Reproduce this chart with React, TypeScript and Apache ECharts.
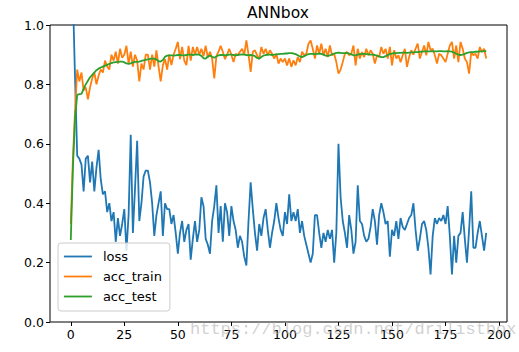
import React, { useEffect, useRef } from "react";
import * as echarts from "echarts";

const seriesNames = ["loss", "acc_train", "acc_test"];
const colors = ["#1f77b4", "#ff7f0e", "#2ca02c"];
const xTicks = [0, 25, 50, 75, 100, 125, 150, 175, 200];

const loss = [
  1.4, 1.1, 0.82, 0.56, 0.55, 0.53, 0.44, 0.55, 0.56, 0.47,
  0.54, 0.44, 0.52, 0.58, 0.48, 0.43, 0.44, 0.37, 0.4, 0.34,
  0.37, 0.27, 0.35, 0.29, 0.33, 0.38, 0.24, 0.36, 0.63, 0.3,
  0.45, 0.61, 0.34, 0.4, 0.49, 0.51, 0.51, 0.47, 0.4, 0.29,
  0.36, 0.4, 0.44, 0.29, 0.4, 0.38, 0.38, 0.33, 0.36, 0.3,
  0.23, 0.3, 0.34, 0.27, 0.31, 0.33, 0.21, 0.28, 0.34, 0.27,
  0.31, 0.42, 0.39, 0.28, 0.26, 0.23, 0.34, 0.39, 0.46, 0.3,
  0.39, 0.27, 0.4, 0.37, 0.29, 0.39, 0.34, 0.31, 0.25, 0.29,
  0.27, 0.22, 0.19, 0.34, 0.47, 0.38, 0.3, 0.24, 0.33, 0.29,
  0.35, 0.38, 0.31, 0.25, 0.3, 0.34, 0.4, 0.35, 0.31, 0.29,
  0.37, 0.33, 0.43, 0.34, 0.37, 0.34, 0.38, 0.3, 0.34, 0.29,
  0.26, 0.23, 0.2, 0.23, 0.36, 0.36, 0.3, 0.25, 0.3, 0.27,
  0.31, 0.28, 0.31, 0.2, 0.3, 0.6, 0.42, 0.34, 0.3, 0.25,
  0.36, 0.31, 0.23, 0.27, 0.46, 0.34, 0.33, 0.29, 0.27, 0.28,
  0.32, 0.38, 0.34, 0.26, 0.36, 0.4, 0.37, 0.33, 0.34, 0.22,
  0.31, 0.29, 0.34, 0.28, 0.35, 0.32, 0.31, 0.33, 0.35, 0.36,
  0.4, 0.31, 0.24, 0.28, 0.33, 0.34, 0.31, 0.25, 0.16, 0.29,
  0.35, 0.33, 0.35, 0.34, 0.36, 0.33, 0.39, 0.29, 0.16, 0.29,
  0.2, 0.29, 0.3, 0.37, 0.28, 0.2, 0.31, 0.44, 0.25, 0.25,
  0.3, 0.34, 0.29, 0.24, 0.3,
];

const accTrain = [
  0.33, 0.55, 0.71, 0.85, 0.81, 0.84, 0.78, 0.79, 0.75, 0.79,
  0.82, 0.84, 0.8, 0.83, 0.85, 0.84, 0.88, 0.86, 0.85, 0.9,
  0.88, 0.91, 0.87, 0.92, 0.89, 0.9, 0.93, 0.87, 0.91, 0.86,
  0.9, 0.88, 0.81, 0.87, 0.85, 0.9, 0.9, 0.85, 0.9, 0.86,
  0.915, 0.86, 0.81, 0.865, 0.885, 0.85, 0.9, 0.865, 0.9, 0.92,
  0.943, 0.885, 0.926, 0.88, 0.865, 0.93, 0.88, 0.926, 0.9, 0.926,
  0.9, 0.92, 0.895, 0.93, 0.89, 0.91, 0.887, 0.82, 0.895, 0.91,
  0.93, 0.91, 0.885, 0.9, 0.92, 0.9, 0.875, 0.903, 0.898, 0.91,
  0.92, 0.9, 0.948, 0.9, 0.842, 0.91, 0.915, 0.898, 0.885, 0.926,
  0.903, 0.92, 0.898, 0.915, 0.903, 0.887, 0.903, 0.87, 0.887, 0.875,
  0.887, 0.864, 0.887, 0.859, 0.881, 0.864, 0.892, 0.875, 0.91, 0.898,
  0.903, 0.937, 0.948, 0.92, 0.887, 0.931, 0.903, 0.937, 0.898, 0.92,
  0.892, 0.931, 0.898, 0.903, 0.875, 0.836, 0.85, 0.875, 0.903, 0.909,
  0.898, 0.903, 0.931, 0.864, 0.92, 0.887, 0.909, 0.892, 0.92, 0.898,
  0.915, 0.903, 0.87, 0.898, 0.892, 0.926, 0.903, 0.92, 0.887, 0.926,
  0.864, 0.915, 0.887, 0.898, 0.875, 0.898, 0.92, 0.859, 0.892, 0.915,
  0.9, 0.92, 0.937, 0.887, 0.909, 0.931, 0.898, 0.943, 0.915, 0.92,
  0.898, 0.87, 0.903, 0.898, 0.887, 0.875, 0.903, 0.931, 0.943, 0.887,
  0.931, 0.875, 0.943, 0.92, 0.887, 0.875, 0.836, 0.909, 0.898, 0.903,
  0.887, 0.926, 0.909, 0.92, 0.887,
];

const accTest = [
  0.276, 0.52, 0.69, 0.765, 0.767, 0.768, 0.785, 0.8, 0.812, 0.824,
  0.832, 0.84, 0.848, 0.853, 0.857, 0.86, 0.863, 0.866, 0.869, 0.872,
  0.874, 0.875, 0.876, 0.877, 0.877, 0.874, 0.871, 0.869, 0.871, 0.874,
  0.876, 0.876, 0.877, 0.879, 0.881, 0.883, 0.884, 0.886, 0.887, 0.887,
  0.884, 0.878, 0.877, 0.882, 0.893, 0.897, 0.898, 0.898, 0.897, 0.898,
  0.899, 0.899, 0.898, 0.898, 0.899, 0.9, 0.9, 0.899, 0.9, 0.901,
  0.9, 0.896, 0.888, 0.887, 0.894, 0.897, 0.893, 0.89, 0.894, 0.898,
  0.899, 0.899, 0.898, 0.899, 0.9, 0.9, 0.899, 0.898, 0.899, 0.9,
  0.901, 0.9, 0.899, 0.898, 0.899, 0.898, 0.895, 0.889, 0.887, 0.892,
  0.897, 0.899, 0.9, 0.9, 0.899, 0.9, 0.901, 0.902, 0.903, 0.903,
  0.904, 0.904, 0.905, 0.905, 0.904, 0.902, 0.898, 0.894, 0.892, 0.895,
  0.899, 0.902, 0.903, 0.903, 0.902, 0.903, 0.904, 0.903, 0.9, 0.897,
  0.896, 0.898, 0.901, 0.904, 0.906, 0.907, 0.906, 0.905, 0.905, 0.906,
  0.904, 0.901, 0.898, 0.898, 0.9, 0.902, 0.903, 0.903, 0.902, 0.901,
  0.9, 0.9, 0.899, 0.897, 0.894, 0.892, 0.892, 0.895, 0.899, 0.902,
  0.904, 0.905, 0.905, 0.906, 0.906, 0.907, 0.907, 0.906, 0.907, 0.908,
  0.908, 0.909, 0.909, 0.91, 0.91, 0.911, 0.911, 0.911, 0.911, 0.912,
  0.911, 0.911, 0.912, 0.912, 0.911, 0.911, 0.912, 0.911, 0.91, 0.907,
  0.903, 0.9, 0.899, 0.9, 0.903, 0.906, 0.908, 0.909, 0.909, 0.91,
  0.91, 0.911, 0.911, 0.912, 0.912,
];

const allSeries = [loss, accTrain, accTest];

export default function App() {
  const ref = useRef<HTMLDivElement>(null);
  useEffect(() => {
    if (!ref.current) return;
    const chart = echarts.init(ref.current, undefined, { renderer: "svg" });
    const font = "DejaVu Sans";
    chart.setOption({
      animation: false,
      backgroundColor: "#ffffff",
      textStyle: { fontFamily: font },
      title: {
        text: "ANNbox",
        left: 247,
        top: 5,
        padding: 0,
        textStyle: { fontSize: 15.5, fontWeight: "normal", color: "#000", fontFamily: font },
      },
      grid: {
        left: 50,
        right: 12,
        top: 25,
        bottom: 30,
        show: true,
        borderColor: "#000",
        borderWidth: 1,
        backgroundColor: "transparent",
      },
      xAxis: {
        type: "value",
        min: -9.7,
        max: 203.7,
        splitLine: { show: false },
        axisLine: { show: false, onZero: false },
        axisTick: {
          show: true,
          inside: false,
          length: 4,
          customValues: xTicks,
          lineStyle: { color: "#000" },
        },
        axisLabel: {
          customValues: xTicks,
          color: "#000",
          fontSize: 12.5,
          fontFamily: font,
          margin: 6,
        },
      },
      yAxis: {
        type: "value",
        min: 0,
        max: 1,
        interval: 0.2,
        splitLine: { show: false },
        axisLine: { show: false, onZero: false },
        axisTick: { show: true, length: 4, lineStyle: { color: "#000" } },
        axisLabel: {
          formatter: (v: number) => v.toFixed(1),
          color: "#000",
          fontSize: 12.5,
          fontFamily: font,
          margin: 6,
        },
      },
      legend: {
        orient: "vertical",
        left: 58,
        top: 243,
        padding: [7, 8, 8, 5],
        itemGap: 7,
        itemWidth: 28,
        itemHeight: 14,
        backgroundColor: "rgba(255,255,255,0.8)",
        borderColor: "#cccccc",
        borderWidth: 1,
        borderRadius: 3,
        itemStyle: { opacity: 0, borderWidth: 0 },
        lineStyle: { width: 1.8 },
        textStyle: { fontSize: 13, color: "#000", fontFamily: font, padding: [0, 0, 0, 6] },
        data: seriesNames,
      },
      series: allSeries.map((arr, k) => ({
        name: seriesNames[k],
        type: "line",
        data: arr.map((v, i) => [i, v]),
        symbol: "none",
        clip: true,
        lineStyle: { width: 1.8, color: colors[k] },
        itemStyle: { color: colors[k] },
      })),
      graphic: [
        {
          type: "text",
          left: 190,
          top: 321,
          z: 100,
          style: {
            text: "https://blog.csdn.net/drilistbox",
            fontSize: 17,
            fontFamily: "Liberation Mono",
            fill: "rgba(170,170,170,0.55)",
          },
        },
      ],
    });
    return () => chart.dispose();
  }, []);
  return (
    <div
      ref={ref}
      style={{ position: "absolute", left: 0, top: 0, width: 519, height: 352 }}
    />
  );
}
